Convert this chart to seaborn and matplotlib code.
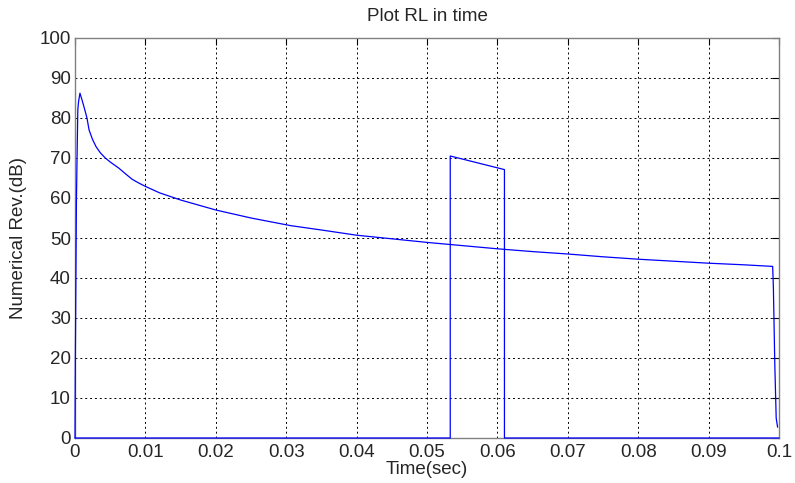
import numpy as np
import pandas as pd
import matplotlib
matplotlib.use("Agg")
import matplotlib.pyplot as plt
import seaborn as sns

# Main decay curve
t_main = [0, 0.00005, 0.0001, 0.0002, 0.0003, 0.0004, 0.0005, 0.0007, 0.0010, 0.0014,
          0.0017, 0.0020, 0.0025, 0.0030, 0.0036, 0.0043, 0.0050, 0.0062, 0.0070, 0.0081,
          0.0090, 0.0100, 0.0120, 0.0150, 0.0200, 0.0250, 0.0306,
          0.0350, 0.0400, 0.0450, 0.0500, 0.0550, 0.0600, 0.0650, 0.0700, 0.0750, 0.0800,
          0.0850, 0.0900, 0.0950, 0.0991, 0.0992, 0.0994, 0.0996, 0.0998]
rl_main = [0, 20, 33, 59, 71, 82, 84, 86.2, 84.5, 82.0,
           80.0, 77.0, 74.6, 72.8, 71.3, 70.0, 69.0, 67.5, 66.3, 64.7,
           63.8, 62.9, 61.3, 59.5, 57, 55, 53.1,
           52, 50.7, 49.8, 48.9, 48.1, 47.3, 46.6, 46.0, 45.3, 44.7,
           44.2, 43.7, 43.3, 42.9, 37.8, 18.7, 5.0, 2.7]

# Pulse series
t_pulse = [0, 0.0533, 0.0533, 0.0610, 0.0610, 0.1]
rl_pulse = [0, 0, 70.5, 67.1, 0, 0]

xticks = [0, 0.01, 0.02, 0.03, 0.04, 0.05, 0.06, 0.07, 0.08, 0.09, 0.1]
xticklabels = ["0", "0.01", "0.02", "0.03", "0.04", "0.05", "0.06", "0.07", "0.08", "0.09", "0.1"]
yticks = [0, 10, 20, 30, 40, 50, 60, 70, 80, 90, 100]

sns.set_style("white")
plt.rcParams['font.family'] = ['Liberation Sans', 'DejaVu Sans']

fig = plt.figure(figsize=(7.95, 4.83), dpi=100)
ax = fig.add_axes([75/795, 1-438/483, (779-75)/795, (438-38)/483])

df_main = pd.DataFrame({"t": t_main, "rl": rl_main})
df_pulse = pd.DataFrame({"t": t_pulse, "rl": rl_pulse})
sns.lineplot(data=df_main, x="t", y="rl", ax=ax, color="#0000ff", linewidth=0.9,
             sort=False, estimator=None, zorder=3, clip_on=False)
sns.lineplot(data=df_pulse, x="t", y="rl", ax=ax, color="#0000ff", linewidth=0.9,
             sort=False, estimator=None, zorder=3, clip_on=False)

ax.set_xlim(0, 0.1)
ax.set_ylim(0, 100)
ax.set_xticks(xticks)
ax.set_xticklabels(xticklabels)
ax.set_yticks(yticks)
ax.grid(True, color="black", linestyle=(0, (2, 3)), linewidth=0.7)
for s in ax.spines.values():
    s.set_color("#808080")
    s.set_linewidth(1.0)
ax.tick_params(axis="both", direction="in", length=5, color="black", labelsize=13.5,
               top=True, right=True)
ax.tick_params(axis="x", pad=4)
ax.tick_params(axis="y", pad=3)
ax.set_title("Plot RL in time", fontsize=13.5, pad=12)
ax.set_xlabel("Time(sec)", fontsize=13.5, labelpad=0)
ax.set_ylabel("Numerical Rev.(dB)", fontsize=13.5, labelpad=9)

fig.savefig("out.png", dpi=100)
